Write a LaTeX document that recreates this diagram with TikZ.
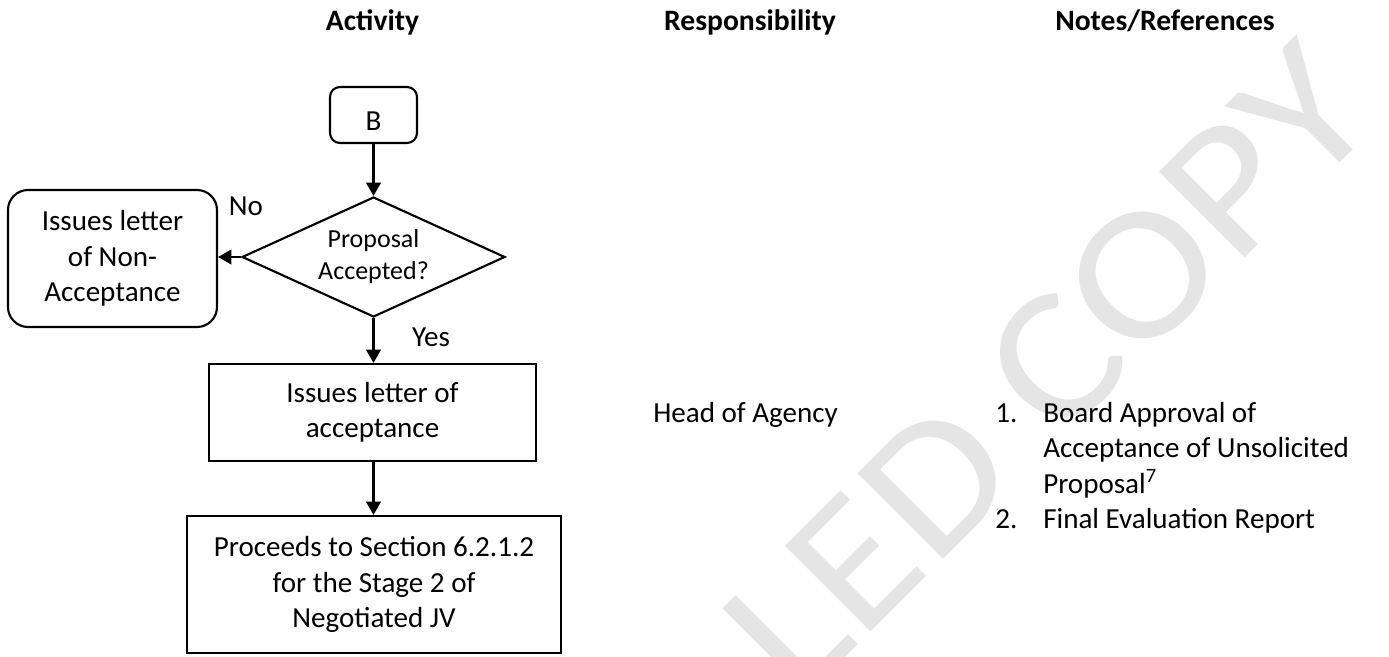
\documentclass[tikz,border=0pt]{standalone}
\usepackage{fontspec}
\setmainfont{Carlito}
\usetikzlibrary{shapes.geometric,arrows.meta}
\begin{document}
\begin{tikzpicture}[x=0.75pt,y=-0.75pt,
  txt/.style={font=\fontsize{21.8}{26.6}\selectfont, inner sep=0pt},
  hdr/.style={font=\bfseries\fontsize{22.2}{27}\selectfont, inner sep=0pt},
  box/.style={draw, line width=1.6pt, align=center, inner sep=0pt, font=\fontsize{21.8}{26.6}\selectfont},
  conn/.style={line width=1.6pt, -{Triangle[length=10pt,width=11pt]}},
  wmark/.style={font=\fontsize{157.5}{160}\selectfont, text=black!10, inner sep=0pt}]
\useasboundingbox (0,0) rectangle (1389,657);
\begin{scope}
\clip (0,0) rectangle (1389,657);
\node[wmark, rotate=45, yscale=0.9, anchor=base] (wm) at (798.5,704.5) {CONTROLLED COPY};
\end{scope}
% headers
\node[hdr, anchor=base] (h1) at (372.5,30) {Activity};
\node[hdr, anchor=base] (h2) at (750,30) {Responsibility};
\node[hdr, anchor=base] (h3) at (1165,30) {Notes/References};
% flow
\node[box, rounded corners=7.5pt, minimum width=65.25pt, minimum height=42pt] (B) at (373.5,115) {};
\node[txt, anchor=base] (Bt) at (373.5,130) {B};
\node[box, diamond, shape aspect=2.19, minimum width=197.25pt, minimum height=90pt,
      font=\fontsize{19.5}{24}\selectfont] (dia) at (373.5,257) {Proposal\\Accepted?};
\node[box, rounded corners=15pt, minimum width=156.75pt, minimum height=102.75pt] (nonacc) at (112.5,258.5) {Issues letter\\of Non-\\Acceptance};
\node[box, minimum width=245.25pt, minimum height=72.75pt] (acc) at (372.5,412.5) {Issues letter of\\acceptance};
\node[box, minimum width=280.5pt, minimum height=102.75pt] (proc) at (374,584.5) {Proceeds to Section 6.2.1.2\\for the Stage 2 of\\Negotiated JV};
\draw[conn] (B.south) -- (B.south |- dia.north);
\draw[conn] (dia.west) -- (dia.west -| nonacc.east);
\draw[conn] (dia.south) -- (dia.south |- acc.north);
\draw[conn] (acc.south -| dia.south) -- (dia.south |- proc.north);
\node[txt] (no) at (246,206) {No};
\node[txt] (yes) at (431,337) {Yes};
% responsibility
\node[txt, anchor=base west] (resp) at (653,422) {Head of Agency};
% notes
\node[txt, anchor=base west] (n1) at (995,422) {1.};
\node[txt, anchor=base west] (n1a) at (1043,422) {Board Approval of};
\node[txt, anchor=base west] (n1b) at (1043,457.5) {Acceptance of Unsolicited};
\node[txt, anchor=base west] (n1c) at (1043,493) {Proposal\textsuperscript{7}};
\node[txt, anchor=base west] (n2) at (995,528.5) {2.};
\node[txt, anchor=base west] (n2a) at (1043,528.5) {Final Evaluation Report};
\end{tikzpicture}
\end{document}
